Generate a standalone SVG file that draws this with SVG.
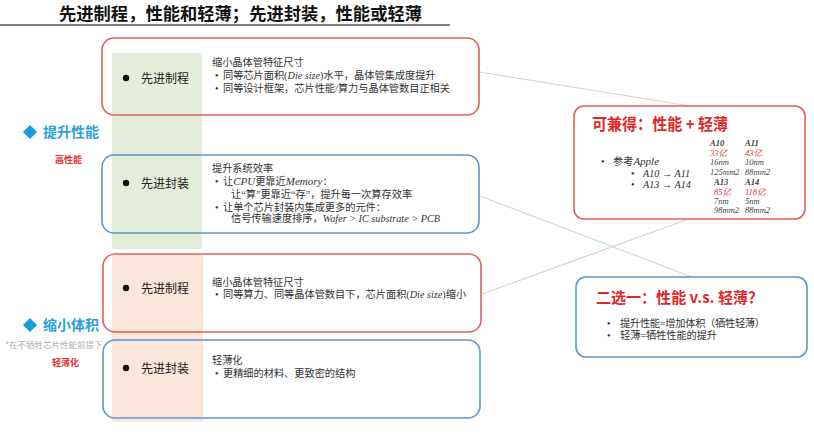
<svg xmlns="http://www.w3.org/2000/svg" width="814" height="448" viewBox="0 0 814 448">
<style>
.cjk{font-family:"Noto Sans CJK SC","Liberation Serif",serif;}
.t{font-family:"Liberation Serif","Noto Sans CJK SC",serif;font-size:10.2px;fill:#333;}
.it{font-style:italic;}
.lbl{font-family:"Liberation Serif","Noto Sans CJK SC",serif;font-size:12px;fill:#222;}
.red{fill:none;stroke:#e0605a;stroke-width:1.6;}
.blue{fill:none;stroke:#5b97c8;stroke-width:1.6;}
.tb{font-family:"Liberation Serif","Noto Sans CJK SC",serif;font-size:8.5px;font-style:italic;fill:#444;}
.tr{fill:#e03030;}
</style>
<defs>
<clipPath id="leftclip"><rect x="0" y="330" width="103" height="30"/></clipPath>
</defs>
<rect width="814" height="448" fill="#ffffff"/>
<text x="59" y="20" class="cjk" font-size="17" font-weight="bold" fill="#111" textLength="363" lengthAdjust="spacingAndGlyphs">先进制程，性能和轻薄；先进封装，性能或轻薄</text>
<line x1="0" y1="25" x2="450" y2="25" stroke="#555" stroke-width="1.5"/>

<g id="connectors" fill="none" stroke-width="1.2">
<line x1="480" y1="72" x2="690" y2="106" stroke="#e6cccc"/>
<line x1="480" y1="196" x2="692" y2="277" stroke="#cdd9e3"/>
<line x1="482" y1="294" x2="686" y2="220" stroke="#e6cccc"/>
</g>

<g id="label-performance">
<rect x="25" y="127" width="10" height="10" fill="#1a9de0" transform="rotate(45 30 132)"/>
<text x="43" y="137" class="cjk" font-size="14" font-weight="bold" fill="#2aa0dc">提升性能</text>
<text x="55" y="163" class="cjk" font-size="9" font-weight="bold" fill="#e03030">高性能</text>
</g>
<g id="label-size">
<text x="5" y="348" class="cjk" font-size="8.5" fill="#b0b0b0" clip-path="url(#leftclip)">*在不牺牲芯片性能前提下</text>
<rect x="25" y="320" width="10" height="10" fill="#1a9de0" transform="rotate(45 30 325)"/>
<text x="43" y="330" class="cjk" font-size="14" font-weight="bold" fill="#2aa0dc">缩小体积</text>
<text x="52" y="366" class="cjk" font-size="9" font-weight="bold" fill="#e03030">轻薄化</text>
</g>

<rect x="112" y="53" width="90" height="196" fill="#e3edd9"/>
<rect x="112" y="255" width="91" height="167" fill="#fbe6da"/>

<g id="box1">
<rect x="102" y="38" width="377" height="77" rx="12" class="red"/>
<circle cx="126" cy="78" r="3.2" fill="#111"/>
<text x="141" y="83" class="lbl">先进制程</text>
<text x="212" y="66" class="t">缩小晶体管特征尺寸</text>
<text x="215" y="79" class="t">•</text>
<text x="223" y="79" class="t">同等芯片面积(<tspan class="it">Die size</tspan>)水平，晶体管集成度提升</text>
<text x="215" y="92" class="t">•</text>
<text x="223" y="92" class="t">同等设计框架，芯片性能/算力与晶体管数目正相关</text>
</g>

<g id="box2">
<rect x="102" y="155" width="377" height="78" rx="12" class="blue"/>
<circle cx="126" cy="183" r="3.2" fill="#111"/>
<text x="141" y="188" class="lbl">先进封装</text>
<text x="212" y="172" class="t">提升系统效率</text>
<text x="215" y="185" class="t">•</text>
<text x="223" y="185" class="t">让<tspan class="it" font-size="11">CPU</tspan>更靠近<tspan class="it" font-size="11">Memory</tspan>：</text>
<text x="231" y="198" class="t">让“算”更靠近“存”，提升每一次算存效率</text>
<text x="215" y="211" class="t">•</text>
<text x="223" y="211" class="t">让单个芯片封装内集成更多的元件：</text>
<text x="231" y="222" class="t">信号传输速度排序，<tspan class="it">Wafer &gt; IC substrate &gt; PCB</tspan></text>
</g>

<g id="box3">
<rect x="103" y="254" width="378" height="78" rx="12" class="red"/>
<circle cx="126" cy="288" r="3.2" fill="#111"/>
<text x="141" y="293" class="lbl">先进制程</text>
<text x="212" y="286" class="t">缩小晶体管特征尺寸</text>
<text x="215" y="298" class="t">•</text>
<text x="223" y="298" class="t">同等算力、同等晶体管数目下，芯片面积(<tspan class="it">Die size</tspan>)缩小</text>
</g>

<g id="box4">
<rect x="103" y="340" width="377" height="78" rx="12" class="blue"/>
<circle cx="126" cy="368" r="3.2" fill="#111"/>
<text x="141" y="373" class="lbl">先进封装</text>
<text x="212" y="364" class="t">轻薄化</text>
<text x="215" y="377" class="t">•</text>
<text x="223" y="377" class="t">更精细的材料、更致密的结构</text>
</g>

<g id="box-both">
<rect x="574" y="106" width="231" height="113" rx="10" class="red"/>
<text x="592" y="130" class="cjk" font-size="16" font-weight="bold" fill="#e02828" textLength="136" lengthAdjust="spacingAndGlyphs">可兼得：性能 + 轻薄</text>
<text x="601" y="165" class="t">•</text>
<text x="613" y="165" class="t"><tspan>参考</tspan><tspan class="it" font-size="11">Apple</tspan></text>
<text x="631" y="177" class="t">•</text>
<text x="643" y="177" class="t it" font-size="11">A10 → A11</text>
<text x="631" y="188" class="t">•</text>
<text x="643" y="188" class="t it" font-size="11">A13 → A14</text>
<text x="710" y="146" class="tb" font-weight="bold" fill="#222">A10</text>
<text x="710" y="156" class="tb tr">33亿</text>
<text x="710" y="165" class="tb">16nm</text>
<text x="710" y="175" class="tb">125mm2</text>
<text x="714" y="185" class="tb" font-weight="bold" fill="#222">A13</text>
<text x="714" y="195" class="tb tr">85亿</text>
<text x="714" y="204" class="tb">7nm</text>
<text x="714" y="213" class="tb">98mm2</text>
<text x="745" y="146" class="tb" font-weight="bold" fill="#222">A11</text>
<text x="745" y="156" class="tb tr">43亿</text>
<text x="745" y="165" class="tb">10nm</text>
<text x="745" y="175" class="tb">88mm2</text>
<text x="745" y="185" class="tb" font-weight="bold" fill="#222">A14</text>
<text x="745" y="195" class="tb tr">118亿</text>
<text x="745" y="204" class="tb">5nm</text>
<text x="745" y="213" class="tb">88mm2</text>
</g>

<g id="box-either">
<rect x="576" y="277" width="231" height="80" rx="10" class="blue"/>
<text x="596" y="303" class="cjk" font-size="15" font-weight="bold" fill="#e02828" textLength="167" lengthAdjust="spacingAndGlyphs">二选一：性能 v.s. 轻薄？</text>
<text x="607" y="327" class="t">•</text>
<text x="620" y="327" class="t" textLength="145" lengthAdjust="spacing">提升性能=增加体积（牺牲轻薄）</text>
<text x="607" y="339" class="t">•</text>
<text x="620" y="339" class="t" textLength="97" lengthAdjust="spacing">轻薄=牺牲性能的提升</text>
</g>
</svg>
